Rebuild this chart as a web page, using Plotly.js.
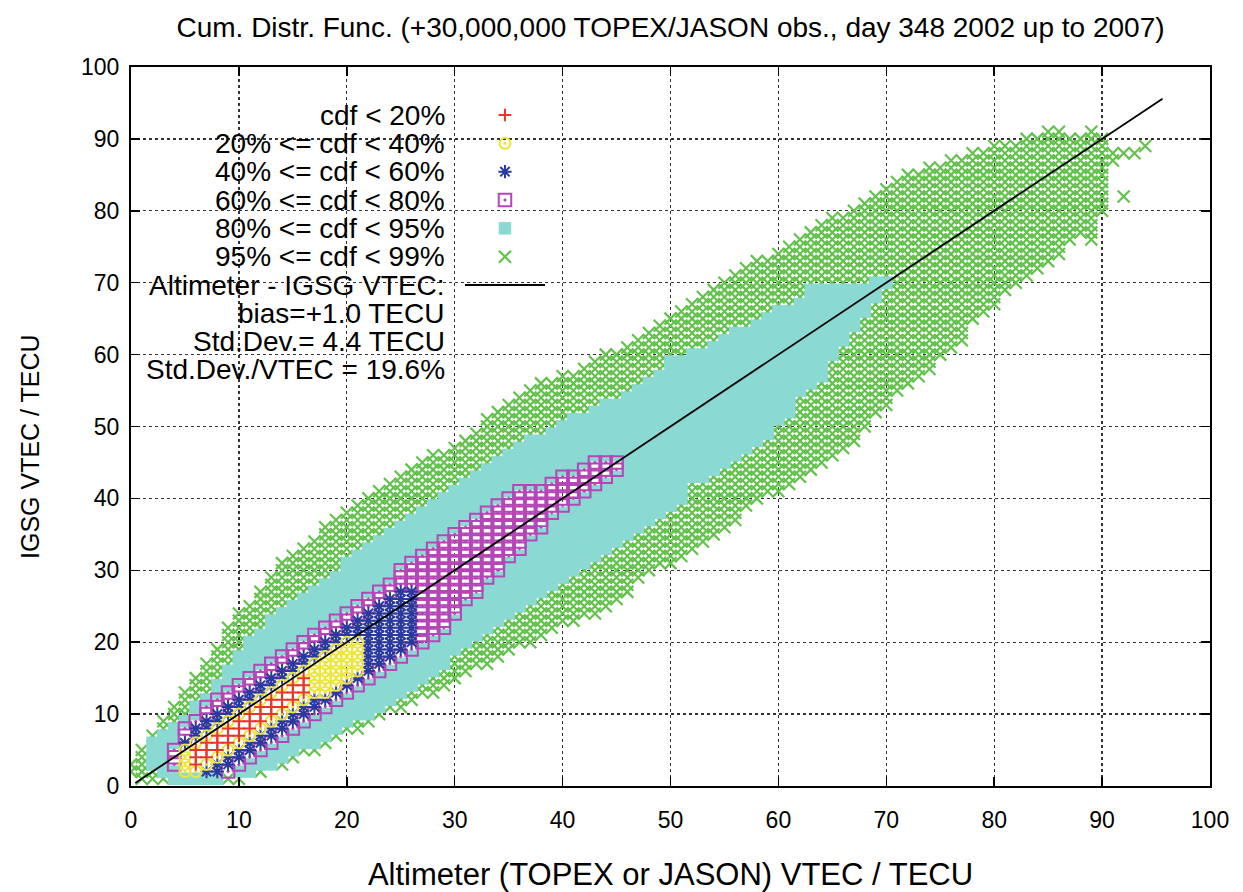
<!DOCTYPE html>
<html>
<head>
<meta charset="utf-8">
<script src="https://cdn.plot.ly/plotly-3.0.1.min.js"></script>
<style>
  html, body { margin: 0; padding: 0; background: #fff; }
  #chart { width: 1243px; height: 892px; }
</style>
</head>
<body>
<div id="chart"></div>
<script>
// Altimeter VTEC vs IGSG VTEC on a 1 x 1 TECU grid.  Every bin is coloured by the
// cumulative-distribution class it falls in.  For each class the arrays give, per
// altimeter column (starting at column x0), the lowest and highest IGSG bin that is
// in that class or in a denser one.

// cdf < 20%
const redX0 = 6;
const redLo = [3, 4, 5, 6, 7, 8, 9, 10, 11, 12, 13];
const redHi = [5, 6, 7, 8, 9, 10, 11, 12, 13, 14, 15];

// 20% <= cdf < 40%
const yellowX0 = 5;
const yellowLo = [2, 2, 3, 4, 5, 6, 7, 8, 9, 10, 11, 12, 13, 13, 14, 15, 16];
const yellowHi = [5, 6, 7, 8, 9, 10, 11, 12, 13, 14, 15, 16, 17, 18, 19, 20, 20];

// 40% <= cdf < 60%
const blueX0 = 5;
const blueLo = [2, 2, 2, 2, 3,  4, 5, 6, 7, 8, 9, 10, 11, 12, 13,  14, 15, 16, 17, 18, 19, 20];
const blueHi = [6, 8, 9, 10, 11,  12, 13, 14, 15, 16, 17, 18, 19, 20, 21,  22, 23, 24, 25, 26, 27, 27];

// 60% <= cdf < 80%
const magentaX0 = 4;
const magentaLo = [3, 2, 2, 2, 2, 2,
  3, 4, 5, 6, 7, 8, 9, 10, 11, 12,
  13, 14, 15, 16, 17, 18, 19, 20, 21, 22,
  24, 26, 27, 29, 30, 32, 33, 35, 36, 38,
  39, 40, 41, 42, 43, 44];
const magentaHi = [5, 8, 9, 11, 12, 13,
  14, 15, 16, 17, 18, 19, 20, 21, 22, 23,
  24, 25, 26, 27, 28, 30, 31, 32, 33, 34,
  35, 36, 37, 38, 39, 40, 41, 41, 41, 42,
  43, 43, 44, 45, 45, 45];

// 80% <= cdf < 95%
const cyanX0 = 2;
const cyanLo = [3, 2, 1, 1, 1, 1, 1, 2,
  2, 2, 3, 3, 4, 5, 6, 6, 7, 8,
  9, 10, 10, 11, 12, 13, 14, 15, 16, 17,
  19, 20, 21, 22, 23, 24, 25, 26, 27, 28,
  29, 30, 31, 32, 33, 34, 35, 36, 37, 38,
  39, 40, 43, 43, 44, 45, 46, 47, 48, 49,
  51, 52, 55, 56, 57, 60, 62, 64, 66, 68, 70];
const cyanHi = [6, 7, 8, 9, 11, 12, 14, 16,
  18, 20, 21, 23, 24, 25, 26, 27, 28, 29,
  31, 32, 33, 34, 35, 36, 37, 38, 39, 40,
  41, 42, 43, 44, 45, 46, 47, 48, 48, 49,
  50, 51, 51, 52, 53, 53, 54, 55, 56, 57,
  59, 59, 60, 60, 61, 62, 63, 63, 64, 65,
  66, 66, 67, 69, 69, 69, 69, 69, 69, 70, 70];

// 95% <= cdf < 99%
const greenX0 = 0;
const greenLo = [2, 1, 1, 1, 1, 1, 1, 1, 1, 1,
  1, 2, 2, 3, 3, 4, 5, 5, 6, 7,
  8, 8, 9, 10, 11, 11, 12, 13, 13, 14,
  15, 16, 17, 17, 18, 19, 20, 20, 21, 22,
  23, 23, 24, 24, 25, 26, 27, 29, 30, 31,
  31, 32, 33, 34, 35, 36, 37, 39, 40, 41,
  41, 42, 43, 44, 45, 46, 47, 48, 50, 52,
  53, 55, 56, 57, 58, 60, 61, 62, 65, 66,
  67, 69, 70, 71, 72, 73, 74, 76, 77, 76, 80];
const greenHi = [3, 5, 7, 9, 11, 13, 15, 17, 19, 22,
  24, 25, 27, 29, 31, 32, 33, 34, 36, 37,
  38, 39, 40, 41, 42, 43, 44, 45, 46, 46,
  47, 48, 49, 51, 52, 53, 54, 55, 56, 56,
  57, 57, 58, 59, 60, 60, 61, 62, 63, 64,
  65, 66, 67, 68, 69, 70, 71, 72, 73, 73,
  74, 75, 76, 77, 78, 79, 79, 80, 81, 82,
  83, 84, 85, 85, 86, 86, 87, 87, 88, 88,
  89, 89, 89, 90, 90, 91, 91, 90, 90, 91, 90];
// isolated bins beyond the main cloud
const greenExtraX = [91, 91, 92, 93, 94, 92];
const greenExtraY = [87, 88, 88, 88, 89, 82];

// fitted relation drawn over the cloud
const lineX = [0.4, 95.6];
const lineY = [0.4, 95.6];

const legendTexts = ['cdf < 20%', '20% <= cdf < 40%', '40% <= cdf < 60%',
  '60% <= cdf < 80%', '80% <= cdf < 95%', '95% <= cdf < 99%'];
const statTexts = ['Altimeter - IGSG VTEC:', 'bias=+1.0 TECU', 'Std.Dev.= 4.4 TECU',
  'Std.Dev./VTEC = 19.6%'];

const FONT = 'Liberation Sans, Arial, Helvetica, sans-serif';

const classes = [
  {x0: redX0, lo: redLo, hi: redHi, color: '#e8352a', symbol: 'cross-thin-open', size: 9, lw: 2},
  {x0: yellowX0, lo: yellowLo, hi: yellowHi, color: '#ede53a', symbol: 'circle-open-dot', size: 11, lw: 2},
  {x0: blueX0, lo: blueLo, hi: blueHi, color: '#2a3a9c', symbol: 'asterisk-open', size: 11, lw: 2},
  {x0: magentaX0, lo: magentaLo, hi: magentaHi, color: '#b646b8', symbol: 'square-open-dot', size: 12.5, lw: 2},
  {x0: cyanX0, lo: cyanLo, hi: cyanHi, color: '#8adad3', symbol: 'square', size: 12.5, lw: 0},
  {x0: greenX0, lo: greenLo, hi: greenHi, color: '#62c24c', symbol: 'x-thin-open', size: 12, lw: 2.2,
   extraX: greenExtraX, extraY: greenExtraY}
];

function inClass(c, x, y) {
  const i = x - c.x0;
  return i >= 0 && i < c.lo.length && y >= c.lo[i] && y <= c.hi[i];
}

// bins of each class: inside its envelope but outside every denser envelope
classes.forEach((c, k) => {
  c.xs = []; c.ys = [];
  c.lo.forEach((lo, i) => {
    const x = c.x0 + i;
    for (let y = lo; y <= c.hi[i]; y++) {
      if (!classes.slice(0, k).some(d => inClass(d, x, y))) { c.xs.push(x); c.ys.push(y); }
    }
  });
  if (c.extraX) { c.xs = c.xs.concat(c.extraX); c.ys = c.ys.concat(c.extraY); }
});

function markerOf(c) {
  return {symbol: c.symbol, size: c.size, color: c.color,
          line: {width: c.lw, color: c.color}};
}

const traces = [];
// sparse outer classes first so the dense core stays on top
classes.slice().reverse().forEach((c, j) => {
  traces.push({type: 'scatter', mode: 'markers', x: c.xs, y: c.ys, name: legendTexts[5 - j],
               marker: markerOf(c), hoverinfo: 'x+y', showlegend: false});
});
traces.push({type: 'scatter', mode: 'lines', x: lineX, y: lineY, name: statTexts[0],
             line: {color: '#000', width: 1.8}, showlegend: false, hoverinfo: 'skip'});

// key: text right-aligned, sample symbol to its right (drawn on a 0..1 overlay)
const keyTop = 0.9332, keyStep = 0.0394, keyTextX = 0.2929, keySymX = 0.3466;
classes.forEach((c, i) => {
  traces.push({type: 'scatter', mode: 'markers', x: [keySymX], y: [keyTop - i * keyStep],
               xaxis: 'x2', yaxis: 'y2', marker: markerOf(c), showlegend: false,
               hoverinfo: 'skip', cliponaxis: false});
});
traces.push({type: 'scatter', mode: 'lines', x: [0.3095, 0.3837],
             y: [keyTop - 6 * keyStep, keyTop - 6 * keyStep], xaxis: 'x2', yaxis: 'y2',
             line: {color: '#000', width: 1.8}, showlegend: false, hoverinfo: 'skip'});

const annotations = legendTexts.concat(statTexts).map((t, i) => ({
  text: t, xref: 'paper', yref: 'paper', x: keyTextX, y: keyTop - i * keyStep,
  xanchor: 'right', yanchor: 'middle', showarrow: false,
  font: {family: FONT, size: 28, color: '#000'}
}));
// vertical axis title
annotations.push({
  text: 'IGSG VTEC / TECU', xref: 'paper', yref: 'paper', x: -0.0936, y: 0.4715,
  xanchor: 'center', yanchor: 'middle', textangle: -90, showarrow: false,
  font: {family: FONT, size: 25, color: '#000'}
});

const axisCommon = {
  range: [0, 100], dtick: 10, tick0: 0, ticks: 'inside', ticklen: 9, tickwidth: 1.5,
  tickcolor: '#000', showline: true, linewidth: 2, linecolor: '#000', mirror: 'ticks',
  showgrid: true, gridcolor: '#333', griddash: 'dot', gridwidth: 1.3, zeroline: false,
  tickfont: {family: FONT, size: 23, color: '#000'}, fixedrange: true
};

const layout = {
  width: 1243, height: 892,
  margin: {l: 131, r: 33, t: 67, b: 106},
  paper_bgcolor: '#fff', plot_bgcolor: '#fff',
  showlegend: false,
  title: {text: 'Cum. Distr. Func. (+30,000,000 TOPEX/JASON obs., day 348 2002 up to 2007)',
          font: {family: FONT, size: 28, color: '#000'},
          x: 0.5, xref: 'paper', y: 0.97, yref: 'container', yanchor: 'middle'},
  xaxis: Object.assign({}, axisCommon, {
    ticklabelstandoff: 12,
    title: {text: 'Altimeter (TOPEX or JASON) VTEC / TECU', standoff: 35,
            font: {family: FONT, size: 31, color: '#000'}}
  }),
  yaxis: Object.assign({}, axisCommon, {ticklabelstandoff: 5}),
  xaxis2: {range: [0, 1], overlaying: 'x', visible: false, fixedrange: true},
  yaxis2: {range: [0, 1], overlaying: 'y', visible: false, fixedrange: true},
  annotations: annotations
};

Plotly.newPlot('chart', traces, layout, {displayModeBar: false, staticPlot: true});
</script>
</body>
</html>
